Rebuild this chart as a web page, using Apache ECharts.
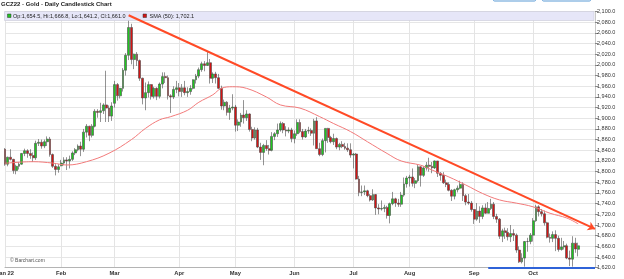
<!DOCTYPE html>
<html><head><meta charset="utf-8">
<script src="https://cdn.jsdelivr.net/npm/echarts/dist/echarts.min.js"></script>
<style>html,body{margin:0;padding:0;background:#fff}#c{width:624px;height:279px}</style>
</head><body><div id="c"></div>
<script>
// ---- data (GCZ22 daily) ----
const holidays = ['2022-01-17','2022-02-21','2022-04-15','2022-05-30','2022-06-20','2022-07-04','2022-09-05'];
const axisDays = 211; // trading days on the axis (data + empty space at right)
const monthNames = ['Jan 22','Feb','Mar','Apr','May','Jun','Jul','Aug','Sep','Oct'];

const opens = [
1842,1814,1827,1823,1802,1810,1814,1834,1839,1834,1830,1826,1853,1855,1848,1856,1861,1832,1810,1804,
1811,1816,1822,1820,1823,1835,1841,1848,1842,1874,1885,1868,1885,1913,1911,1914,1925,1919,1904,
1928,1963,1942,1956,1990,2018,2070,2010,2020,2008,1975,1938,1948,1963,1941,1956,1941,1964,1978,1976,1942,1940,1954,
1957,1950,1957,1948,1950,1956,1972,1979,1991,2002,1999,2004,1975,1983,1976,1956,1923,1930,1911,1919,
1921,1887,1893,1906,1901,1908,1879,1863,1878,1846,1836,1849,1843,1840,1866,1871,1878,1890,1878,1876,1878,
1862,1871,1892,1875,1865,1876,1877,1872,1895,1843,1832,1858,1881,1864,1856,1862,1846,1851,1847,1844,1841,
1831,1833,1786,1761,1762,1764,1755,1747,1757,1732,1730,1731,1733,1718,1740,1749,1741,1739,1756,1777,
1788,1790,1778,1783,1809,1793,1807,1812,1810,1807,1820,1797,1793,1779,1776,1765,1754,1766,1769,1776,1755,1743,1741,
1729,1711,1726,1716,1732,1722,1731,1739,1716,1711,1679,1689,1686,1678,1684,1681,1653,1631,1638,1669,1669,
1681,1708,1734,1725,1721,1704,1677,1675,1682,1675,1654,1659,1661,1638,1636,1666,1654.5];
const highs = [
1844,1828,1842,1824,1813,1818,1835,1843,1842,1842,1836,1858,1861,1860,1860,1866,1865,1834,1814,1814,
1822,1827,1827,1830,1838,1844,1851,1856,1880,1889,1886,1889,1917,1917,1929,1928,1989,1924,1930,
1970,1966,1957,1994,2022,2092,2077,2021,2024,2010,1976,1967,1969,1964,1959,1958,1967,1986,1986,1980,1945,1960,1970,
1966,1964,1970,1958,1962,1973,1983,1995,2006,2007,2024,2011,1986,1987,1983,1961,1935,1932,1925,1945,
1925,1898,1910,1934,1915,1909,1884,1883,1882,1854,1852,1859,1850,1874,1874,1890,1894,1893,1885,1883,1882,
1877,1898,1898,1880,1880,1884,1881,1899,1902,1854,1862,1881,1882,1867,1871,1864,1854,1857,1854,1853,1853,
1835,1835,1792,1774,1774,1766,1758,1767,1758,1739,1746,1738,1736,1742,1762,1751,1749,1762,1789,1792,
1794,1806,1788,1813,1810,1810,1818,1826,1818,1821,1820,1799,1799,1785,1780,1767,1768,1774,1783,1780,1758,1758,1745,
1730,1741,1735,1737,1740,1743,1749,1743,1721,1713,1693,1695,1694,1700,1692,1684,1660,1647,1670,1676,1685,
1713,1738,1737,1730,1727,1706,1684,1688,1690,1680,1676,1670,1665,1652,1679,1676,1666.8];
const lows = [
1811,1810,1821,1796,1795,1804,1813,1829,1826,1824,1818,1822,1848,1843,1844,1848,1828,1807,1793,1798,
1810,1812,1803,1806,1820,1831,1838,1829,1837,1864,1857,1864,1883,1901,1893,1908,1893,1893,1895,
1920,1933,1937,1950,1980,2009,2001,1992,1998,1970,1926,1915,1939,1935,1937,1934,1937,1956,1966,1935,1910,1936,1947,
1941,1940,1943,1940,1944,1954,1965,1975,1987,1988,1998,1965,1966,1965,1955,1916,1915,1905,1897,1915,
1875,1876,1884,1890,1895,1875,1857,1860,1844,1822,1812,1839,1832,1838,1859,1865,1875,1872,1866,1872,1855,
1853,1867,1872,1860,1863,1871,1867,1849,1843,1829,1829,1836,1854,1853,1850,1842,1840,1844,1841,1837,1826,
1806,1785,1754,1754,1756,1752,1744,1745,1719,1720,1727,1724,1712,1703,1737,1734,1734,1734,1753,1770,
1772,1772,1769,1780,1772,1790,1802,1800,1797,1805,1790,1783,1777,1771,1763,1745,1748,1761,1767,1745,1737,1738,1725,
1702,1708,1704,1711,1721,1722,1728,1711,1704,1674,1668,1674,1671,1668,1670,1648,1629,1628,1622,1650,1664,
1669,1706,1716,1716,1699,1675,1667,1668,1651,1650,1652,1654,1636,1623,1622,1648,1641.2];
const closes = [
1814,1827,1823,1802,1810,1814,1834,1839,1834,1830,1826,1853,1855,1848,1856,1861,1832,1810,1804,1809,
1816,1822,1820,1823,1835,1841,1848,1842,1874,1885,1868,1885,1913,1911,1914,1925,1919,1904,1923,
1963,1942,1956,1990,2018,2070,2010,2020,2008,1975,1938,1948,1963,1941,1956,1941,1964,1978,1976,1942,1940,1954,1957,
1950,1957,1948,1950,1956,1972,1979,1991,2002,1999,2004,1975,1983,1976,1956,1923,1930,1911,1919,1921,
1887,1893,1906,1901,1908,1879,1863,1878,1846,1836,1849,1843,1840,1866,1871,1878,1890,1878,1876,1878,1862,
1871,1892,1875,1865,1876,1877,1872,1895,1843,1832,1858,1881,1864,1856,1862,1846,1851,1847,1844,1841,1831,
1833,1786,1761,1762,1764,1755,1747,1757,1732,1730,1731,1733,1718,1740,1749,1741,1739,1756,1777,1788,
1790,1778,1783,1809,1793,1807,1812,1810,1807,1820,1797,1793,1779,1776,1765,1754,1766,1769,1776,1755,1743,1741,1729,
1711,1726,1716,1732,1722,1731,1739,1716,1711,1679,1689,1686,1678,1684,1681,1653,1631,1638,1669,1669,1681,
1708,1734,1725,1721,1704,1677,1675,1682,1675,1654,1659,1661,1638,1636,1666,1655,1661.0];

const smaIdx = [0,10,17,22,29,37,45,50,55,59,65,69,74,77,81,86,93,98,105,112,117,123,129,136,141,148,152,158,164,170,176,182,188,194,200,204];
const smaVal = [1815.6,1818.6,1816,1812.4,1818.6,1834.4,1860,1881,1897,1903,1915,1930,1944,1956,1959,1956,1940,1925,1919,1903,1890,1875,1856,1834,1820,1812,1803,1790,1775,1759,1747,1741,1734,1722,1713,1702.1];

// drawn lines (trend line from the March high, support line)
const trendStart = [44, 2093];
const trendEnd = [210, 1692.7];
const supportStart = [172, 1620.5];
const supportEnd = [210, 1620.5];
const lastPrice = 1661.0;

// ---- build ----
const dates = [];
for (let d = new Date(Date.UTC(2022,0,3)); dates.length < axisDays; d.setUTCDate(d.getUTCDate()+1)) {
  const wd = d.getUTCDay(); const s = d.toISOString().slice(0,10);
  if (wd === 0 || wd === 6 || holidays.includes(s)) continue;
  dates.push(s);
}
const monthStart = {};
dates.forEach((s, i) => {
  const m = +s.slice(5,7) - 1;
  if ((i === 0 || s.slice(5,7) !== dates[i-1].slice(5,7)) && m < monthNames.length) monthStart[i] = monthNames[m];
});
const isMonth = (i) => monthStart[i] !== undefined;
const candles = opens.map((o, i) => [o, closes[i], lows[i], highs[i]]);
const sma = smaIdx.map((x, i) => [x, smaVal[i]]);
const fmt = v => v.toLocaleString('en-US', {minimumFractionDigits: 1, maximumFractionDigits: 1});
const FONT = 'Liberation Sans, Arial, sans-serif';

const chart = echarts.init(document.getElementById('c'), null, {renderer: 'canvas'});
chart.setOption({
  animation: false,
  grid: {left: 5, right: 29, top: 11.5, bottom: 11.3, containLabel: false, outerBoundsMode: 'none'},
  xAxis: {
    type: 'category', data: dates, boundaryGap: false,
    axisLine: {show: true, lineStyle: {color: '#b4b4b4', width: 1}},
    axisTick: {show: false},
    axisLabel: {interval: isMonth, formatter: (v, i) => monthStart[i] || '', fontSize: 5.8, fontWeight: 'bold',
      color: '#333', margin: 3, fontFamily: FONT, hideOverlap: false, alignMinLabel: 'center', alignMaxLabel: 'center'},
    splitLine: {show: true, interval: isMonth, lineStyle: {color: '#e4e4e4', width: 1}}
  },
  yAxis: {
    type: 'value', position: 'right', min: 1620, max: 2100, interval: 20, scale: true,
    axisLine: {show: true, lineStyle: {color: '#c8c8c8'}},
    axisTick: {show: true, length: 3, lineStyle: {color: '#888'}},
    axisLabel: {formatter: fmt, fontSize: 5.5, color: '#333', margin: 2, fontFamily: FONT},
    splitLine: {show: true, lineStyle: {color: '#e6e6e6', width: 1}}
  },
  series: [
    {
      type: 'candlestick', data: candles, clip: false, z: 2, barWidth: '85%',
      itemStyle: {color: '#1fc71f', color0: '#d41414', borderColor: '#4a4a4a', borderColor0: '#4a4a4a', borderWidth: 0.6},
      markLine: {
        silent: true, symbol: 'none', animation: false,
        lineStyle: {opacity: 0},
        label: {show: true, position: 'end', formatter: fmt(lastPrice), backgroundColor: '#000', color: '#fff',
          fontSize: 5.5, padding: [1, 1.5, 0.5, 1.5], distance: 3, fontFamily: FONT},
        data: [{yAxis: lastPrice}]
      }
    },
    {
      type: 'line', data: sma, smooth: 0.4, showSymbol: false, z: 10, connectNulls: true,
      lineStyle: {color: '#f27a7a', width: 1},
      markLine: {
        silent: true, animation: false, label: {show: false},
        data: [
          [{coord: trendStart, symbol: 'none', lineStyle: {color: '#ff4a26', width: 2, type: 'solid'}},
           {coord: trendEnd, symbol: 'arrow', symbolSize: 7}],
          [{coord: supportStart, symbol: 'none', lineStyle: {color: '#2f63d8', width: 2, type: 'solid'}},
           {coord: supportEnd, symbol: 'none'}]
        ]
      }
    }
  ],
  graphic: [
    {type: 'text', left: 1, top: 1, z: 6, style: {text: 'GCZ22 - Gold - Daily Candlestick Chart', fontSize: 6, fontWeight: 'bold', fill: '#222', font: 'bold 6px ' + FONT}},
    {type: 'rect', shape: {x: 4.5, y: 11.5, width: 589.5, height: 9}, z: 5, style: {fill: '#e6e6f8', stroke: '#c9c9d6', lineWidth: 0.6}},
    {type: 'rect', shape: {x: 7.5, y: 14, width: 3.5, height: 3.5}, z: 6, style: {fill: '#22c322', stroke: '#333', lineWidth: 0.5}},
    {type: 'text', x: 13, y: 13.2, z: 6, style: {text: 'Op:1,654.5, Hi:1,666.8, Lo:1,641.2, Cl:1,661.0', font: '5.5px ' + FONT, fill: '#222'}},
    {type: 'rect', shape: {x: 143, y: 14, width: 3.5, height: 3.5}, z: 6, style: {fill: '#d41414', stroke: '#333', lineWidth: 0.5}},
    {type: 'text', x: 149.5, y: 13.2, z: 6, style: {text: 'SMA (50): 1,702.1', font: '5.5px ' + FONT, fill: '#222'}},
    {type: 'text', x: 10, y: 258.5, z: 6, style: {text: '© Barchart.com', font: '5px ' + FONT, fill: '#555'}},
    {type: 'rect', shape: {x: 493.5, y: -8, width: 42, height: 9, r: 1}, z: 6, style: {fill: '#fff', stroke: '#5b9bd5', lineWidth: 1}},
    {type: 'rect', shape: {x: 542.5, y: -8, width: 48, height: 9, r: 1}, z: 6, style: {fill: '#fff', stroke: '#5b9bd5', lineWidth: 1}}
  ]
});
</script></body></html>
